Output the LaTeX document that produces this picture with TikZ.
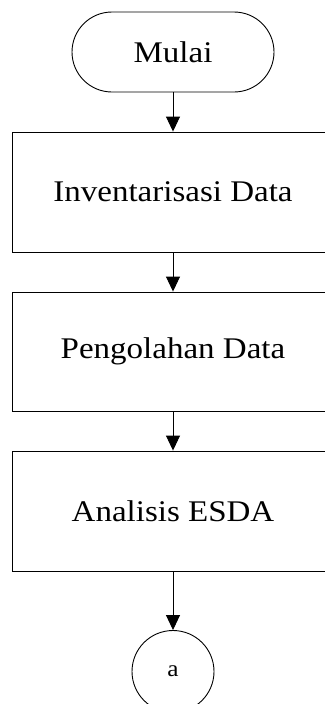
\documentclass[tikz,border=0pt]{standalone}
\usepackage{fontspec}
\setmainfont{Liberation Serif}[FakeStretch=1.1]
\usepackage{tikz}
\usetikzlibrary{arrows.meta}

\tikzset{
    flowbox/.style={draw, fill=white, line width=0.9pt, minimum width=322pt, minimum height=120pt, inner sep=0pt, font=\fontsize{30}{36}\selectfont},
    flowend/.style={draw, fill=white, line width=0.9pt, rounded corners=40pt, minimum width=202pt, minimum height=80pt, inner sep=0pt, font=\fontsize{30}{36}\selectfont},
    flowcon/.style={draw, fill=white, circle, line width=0.9pt, minimum size=82pt, inner sep=0pt, font=\fontsize{23}{28}\selectfont},
    flowarrow/.style={line width=0.9pt, -{Triangle[length=15pt,width=14pt]}}
}

\begin{document}
\begin{tikzpicture}[x=1pt,y=1pt,yscale=-1,xscale=1]

        \useasboundingbox (0,0) rectangle (324,704);

        \node [flowend] (mulai) at (173,52) {Mulai};
        \node [flowbox] (inventaris) at (173,192) {Inventarisasi Data};
        \node [flowbox, minimum height=119pt] (pengolahan) at (173,351.5) {Pengolahan Data};
        \node [flowbox] (analisis) at (173,511) {Analisis ESDA};
        \node [flowcon] (konektor) at (173,671.5) {a};

        \draw [flowarrow] (mulai) -- (inventaris);
        \draw [flowarrow] (inventaris) -- (pengolahan);
        \draw [flowarrow] (pengolahan) -- (analisis);
        \draw [flowarrow] (analisis) -- (konektor);
    \end{tikzpicture}
\end{document}
